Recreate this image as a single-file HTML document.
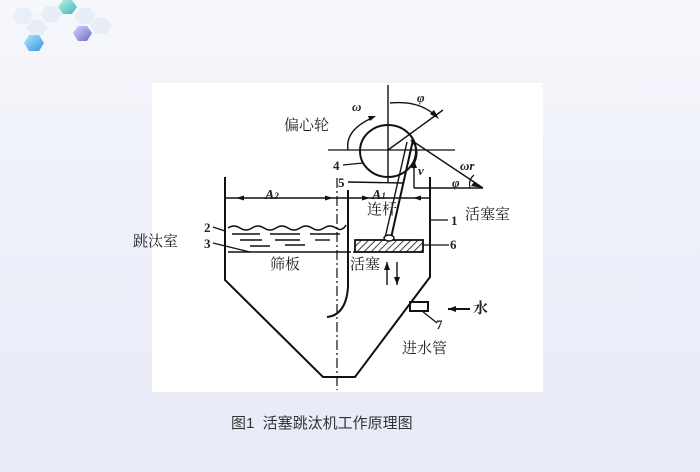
<!DOCTYPE html>
<html><head><meta charset="utf-8"><style>
html,body{margin:0;padding:0}
body{width:700px;height:472px;overflow:hidden;background:linear-gradient(180deg,#f7f8fc 0%,#eef0f9 40%,#e8ebf8 100%);position:relative;font-family:"Liberation Serif","Noto Serif CJK SC",serif}
.t{position:absolute;font-size:15px;color:#222;white-space:nowrap;line-height:1}
</style></head><body>
<svg width="700" height="472" style="position:absolute;left:0;top:0">
<defs>
<linearGradient id="h1" x1="0" y1="0" x2="1" y2="1"><stop offset="0" stop-color="#bdf0ea"/><stop offset="1" stop-color="#3fb6b0"/></linearGradient>
<linearGradient id="h2" x1="0" y1="0" x2="1" y2="1"><stop offset="0" stop-color="#b6e6ff"/><stop offset="1" stop-color="#2f97d6"/></linearGradient>
<linearGradient id="h3" x1="0" y1="0" x2="1" y2="1"><stop offset="0" stop-color="#d6d6ff"/><stop offset="1" stop-color="#6a6ac6"/></linearGradient>
<pattern id="hat" width="5" height="5" patternUnits="userSpaceOnUse" patternTransform="rotate(45)"><line x1="0" y1="0" x2="0" y2="5" stroke="#111" stroke-width="1.6"/></pattern>
</defs>
<g opacity="0.35" fill="#cfe0ef">
<polygon points="12,16 18,8 28,8 34,16 28,24 18,24"/>
<polygon points="40,14 46,6 56,6 62,14 56,22 46,22"/>
<polygon points="26,28 32,20 42,20 48,28 42,36 32,36"/>
<polygon points="74,16 80,8 90,8 96,16 90,24 80,24"/>
<polygon points="90,26 96,18 106,18 112,26 106,34 96,34"/>
</g>
<polygon points="58,7 63,0 72,0 77,7 72,14 63,14" fill="url(#h1)"/>
<polygon points="24,43 29,35 39,35 44,43 39,51 29,51" fill="url(#h2)"/>
<polygon points="73,33 78,26 87,26 92,33 87,41 78,41" fill="url(#h3)"/>
<rect x="152" y="83" width="391" height="309" fill="#fff"/>
<g stroke="#111" stroke-width="2" fill="none">
<polyline points="225,177 225,280 323,377 355,377 430,277 430,177"/>
<path d="M348,190 L348,287 Q346,315 327,317"/>
<line x1="337" y1="178" x2="337" y2="390" stroke-dasharray="10,3,2,3" stroke-width="1.2"/>
<ellipse cx="388" cy="151" rx="28" ry="26"/>
<line x1="388" y1="85" x2="388" y2="183" stroke-width="1.4"/>
<line x1="328" y1="150" x2="455" y2="150" stroke-width="1.2"/>
<line x1="388" y1="150" x2="443" y2="110" stroke-width="1.4"/>
<path d="M390,103 Q420,100 437,117" stroke-width="1.4"/>
<path d="M411,140 Q422,150 412,168" stroke-width="1.6"/>
<line x1="411" y1="140" x2="483" y2="188" stroke-width="1.4"/>
<line x1="414" y1="188" x2="483" y2="188" stroke-width="1.4"/>
<line x1="414" y1="188" x2="414" y2="168" stroke-width="1.4"/>
<path d="M470,188 Q468,180 474,175" stroke-width="1.2"/>
<line x1="413" y1="140" x2="391" y2="238"/>
<line x1="407" y1="142" x2="385" y2="238" stroke-width="1.4"/>
<line x1="348" y1="182" x2="403" y2="183" stroke-width="1.4"/>
<path d="M348,150 Q345,130 372,118" stroke-width="1.4"/>
<line x1="225" y1="198" x2="430" y2="198" stroke-width="1.4"/>
<path d="M228,228 q6,-4 12,0 t12,0 t12,0 t12,0 t12,0 t12,0 t12,0 t12,0 t12,0 t10,-3" stroke-width="1.5"/>
<g stroke-width="1.4"><line x1="232" y1="234" x2="260" y2="234"/><line x1="270" y1="234" x2="300" y2="234"/><line x1="310" y1="234" x2="340" y2="234"/>
<line x1="240" y1="240" x2="262" y2="240"/><line x1="275" y1="240" x2="300" y2="240"/><line x1="315" y1="240" x2="330" y2="240"/>
<line x1="250" y1="246" x2="270" y2="246"/><line x1="285" y1="245" x2="305" y2="245"/></g>
<line x1="228" y1="252" x2="348" y2="252" stroke-width="1.5"/>
<line x1="348" y1="252" x2="355" y2="252" stroke-width="1.5" stroke-dasharray="3,2"/>
<line x1="387" y1="262" x2="387" y2="285" stroke-width="1.4"/><line x1="397" y1="262" x2="397" y2="285" stroke-width="1.4"/>
<rect x="410" y="302" width="18" height="9"/>
<line x1="448" y1="309" x2="470" y2="309"/>
<line x1="422" y1="311" x2="437" y2="323" stroke-width="1.2"/>
<line x1="213" y1="227" x2="225" y2="231" stroke-width="1.2"/>
<line x1="213" y1="243" x2="250" y2="252" stroke-width="1.2"/>
<line x1="423" y1="245" x2="449" y2="245" stroke-width="1.2"/>
<line x1="430" y1="220" x2="448" y2="220" stroke-width="1.2"/>
<line x1="343" y1="165" x2="363" y2="163" stroke-width="1.2"/>
</g>
<rect x="355" y="240" width="68" height="12" fill="url(#hat)" stroke="#111" stroke-width="1.8"/>
<ellipse cx="389" cy="238" rx="5" ry="3" fill="#fff" stroke="#111" stroke-width="1.4"/>
<g fill="#111">
<polygon points="236,198 244,195.5 244,200.5"/><polygon points="333,198 325,195.5 325,200.5"/>
<polygon points="370,198 362,195.5 362,200.5"/><polygon points="413,198 421,195.5 421,200.5"/>
<polygon points="483,188 474,182 471,186"/><polygon points="414,160 411,168 417,168"/>
<polygon points="439,119 430,114 434,110"/><polygon points="376,116 368,116 370,121"/>
<polygon points="448,309 456,306 456,312"/><polygon points="387,262 384,270 390,270"/>
<polygon points="397,285 394,277 400,277"/>
</g>
</svg>
<div class="t" style="left:284px;top:119px">偏心轮</div>
<div class="t" style="left:133px;top:235px">跳汰室</div>
<div class="t" style="left:465px;top:208px">活塞室</div>
<div class="t" style="left:367px;top:203px">连杆</div>
<div class="t" style="left:270px;top:258px">筛板</div>
<div class="t" style="left:350px;top:258px">活塞</div>
<div class="t" style="left:402px;top:342px">进水管</div>
<div class="t" style="left:473px;top:302px;font-weight:bold">水</div>
<div class="t" style="left:204px;top:221px;font-size:13px;font-weight:bold">2</div>
<div class="t" style="left:204px;top:237px;font-size:13px;font-weight:bold">3</div>
<div class="t" style="left:333px;top:159px;font-size:13px;font-weight:bold">4</div>
<div class="t" style="left:338px;top:176px;font-size:13px;font-weight:bold">5</div>
<div class="t" style="left:450px;top:238px;font-size:13px;font-weight:bold">6</div>
<div class="t" style="left:436px;top:318px;font-size:13px;font-weight:bold">7</div>
<div class="t" style="left:451px;top:214px;font-size:13px;font-weight:bold">1</div>
<div class="t" style="left:265px;top:189px;font-size:14px;font-style:italic;font-weight:bold">A<span style="font-size:9px">2</span></div>
<div class="t" style="left:372px;top:189px;font-size:14px;font-style:italic;font-weight:bold">A<span style="font-size:9px">1</span></div>
<div class="t" style="left:352px;top:100px;font-size:13px;font-style:italic;font-weight:bold">ω</div>
<div class="t" style="left:417px;top:91px;font-size:13px;font-style:italic;font-weight:bold">φ</div>
<div class="t" style="left:460px;top:159px;font-size:13px;font-style:italic;font-weight:bold">ωr</div>
<div class="t" style="left:418px;top:164px;font-size:13px;font-style:italic;font-weight:bold">v</div>
<div class="t" style="left:452px;top:176px;font-size:13px;font-style:italic;font-weight:bold">φ</div>
<div class="t" style="left:231px;top:416px;font-size:15px;font-family:'Liberation Sans','Noto Sans CJK SC',sans-serif;color:#333">图1&nbsp;&nbsp;活塞跳汰机工作原理图</div>
</body></html>
